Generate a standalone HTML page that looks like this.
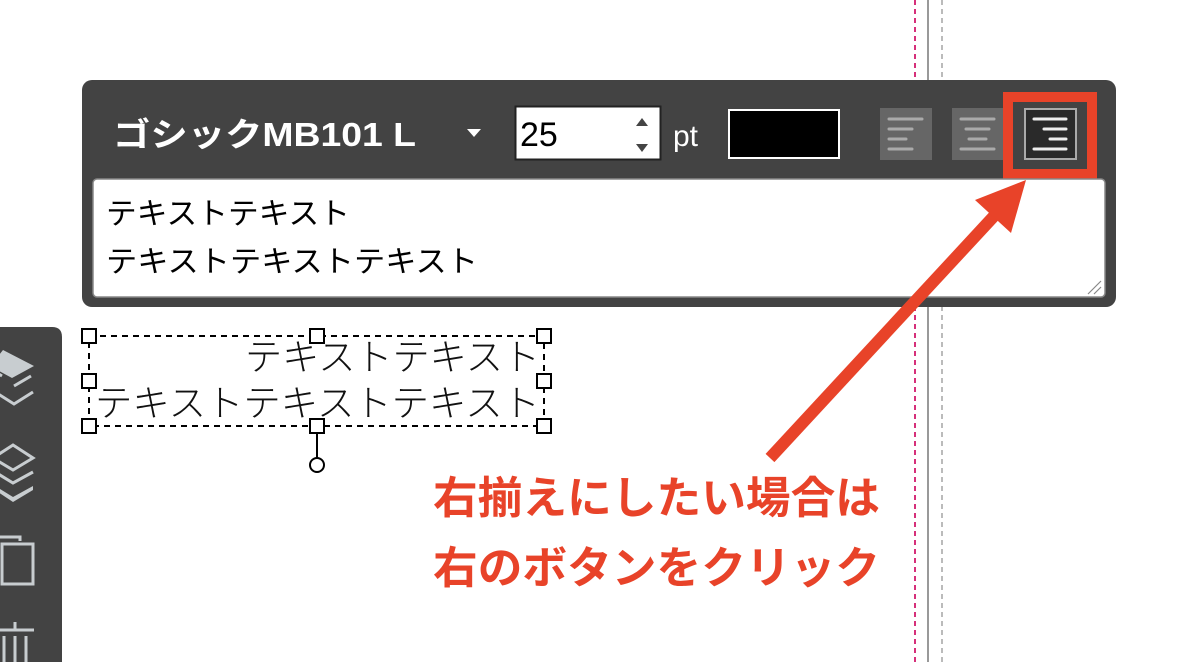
<!DOCTYPE html>
<html><head><meta charset="utf-8"><style>
html,body{margin:0;padding:0;background:#fff;width:1180px;height:662px;overflow:hidden}
svg{display:block}
text{font-family:"Liberation Sans","Noto Sans CJK JP",sans-serif}
</style></head><body>
<svg width="1180" height="662" viewBox="0 0 1180 662" xmlns="http://www.w3.org/2000/svg">
<!-- guide lines -->
<line x1="915" y1="0" x2="915" y2="662" stroke="#d6307a" stroke-width="2" stroke-dasharray="5,4"/>
<line x1="928" y1="0" x2="928" y2="662" stroke="#999" stroke-width="2"/>
<line x1="942" y1="0" x2="942" y2="662" stroke="#bbb" stroke-width="2" stroke-dasharray="5,4"/>
<!-- panel -->
<rect x="82" y="80" width="1034" height="227" rx="10" fill="#434343"/>
<text x="113" y="146" font-size="33" font-weight="bold" fill="#fff" textLength="303" lengthAdjust="spacingAndGlyphs">ゴシックMB101 L</text>
<path d="M467 129 L481 129 L474 137 Z" fill="#fff"/>
<rect x="515.5" y="106.5" width="145" height="53" fill="#fff" stroke="#222" stroke-width="2"/>
<text x="520" y="146" font-size="34" fill="#000">25</text>
<path d="M636 126 L648 126 L642 118 Z M636 144 L648 144 L642 152 Z" fill="#444"/>
<text x="673" y="146" font-size="30" fill="#fff">pt</text>
<rect x="729" y="110" width="110" height="48" fill="#000" stroke="#fff" stroke-width="2"/>
<!-- align buttons -->
<rect x="880" y="108" width="52" height="52" fill="#666"/>
<g stroke="#aaa" stroke-width="3" stroke-linecap="round">
<line x1="889" y1="119" x2="922" y2="119"/><line x1="889" y1="129" x2="912" y2="129"/><line x1="889" y1="139" x2="906" y2="139"/><line x1="889" y1="149" x2="912" y2="149"/>
</g>
<rect x="952" y="108" width="52" height="52" fill="#666"/>
<g stroke="#aaa" stroke-width="3" stroke-linecap="round">
<line x1="961" y1="119" x2="994" y2="119"/><line x1="966" y1="129" x2="989" y2="129"/><line x1="969" y1="139" x2="986" y2="139"/><line x1="961" y1="149" x2="994" y2="149"/>
</g>
<rect x="1025" y="109" width="51" height="50" fill="#2a2a2a" stroke="#aaa" stroke-width="2"/>
<g stroke="#eee" stroke-width="3" stroke-linecap="round">
<line x1="1034" y1="119" x2="1066" y2="119"/><line x1="1044" y1="129" x2="1066" y2="129"/><line x1="1050" y1="139" x2="1066" y2="139"/><line x1="1034" y1="149" x2="1066" y2="149"/>
</g>
<rect x="1008" y="97" width="84" height="77" fill="none" stroke="#e84329" stroke-width="10"/>
<!-- textarea -->
<rect x="93" y="179" width="1012" height="118" rx="4" fill="#fff" stroke="#888" stroke-width="1.5"/>
<text x="106" y="224" font-size="30" fill="#000" textLength="244" lengthAdjust="spacingAndGlyphs">テキストテキスト</text>
<text x="106" y="272" font-size="30" fill="#000" textLength="372" lengthAdjust="spacingAndGlyphs">テキストテキストテキスト</text>
<path d="M1088 294 L1101 281 M1094 294 L1101 287" stroke="#888" stroke-width="1.2"/>
<!-- sidebar -->
<path d="M0 327 L52 327 Q62 327 62 337 L62 662 L0 662 Z" fill="#434343"/>
<g fill="#c8cdd0">
<path d="M3 350 L34 366 L12 378 L-10 366 Z"/>
<path d="M2 376 L-8 370 M14 386 L31 376" stroke="#c8cdd0" stroke-width="3" fill="none"/>
<path d="M-5 392 L14 404 L33 392" stroke="#c8cdd0" stroke-width="3" fill="none"/>
<path d="M13 445 L33 458 L13 470 L-7 458 Z" stroke="#c8cdd0" stroke-width="3" fill="none"/>
<path d="M-5 472 L13 483 L33 472" stroke="#c8cdd0" stroke-width="3" fill="none"/>
<path d="M-5 486 L13 497 L33 486 L33 490 L13 502 L-5 490 Z"/>
</g>
<g stroke="#c8cdd0" stroke-width="3" fill="none">
<path d="M-2 537 L20 537 L20 541"/><rect x="2" y="544" width="31" height="40"/>
<line x1="-2" y1="630" x2="34" y2="630"/><line x1="15" y1="622" x2="15" y2="630"/>
<line x1="4" y1="636" x2="4" y2="662"/><line x1="15" y1="636" x2="15" y2="662"/><line x1="26" y1="636" x2="26" y2="662"/>
</g>
<!-- selection box -->
<rect x="89" y="336" width="455" height="90" fill="none" stroke="#000" stroke-width="2" stroke-dasharray="6,5"/>
<text x="540" y="370" font-size="37" font-weight="300" fill="#111" text-anchor="end" textLength="295" lengthAdjust="spacingAndGlyphs">テキストテキスト</text>
<text x="95" y="416" font-size="37" font-weight="300" fill="#111" textLength="445" lengthAdjust="spacingAndGlyphs">テキストテキストテキスト</text>
<line x1="317" y1="426" x2="317" y2="458" stroke="#000" stroke-width="2"/>
<circle cx="317" cy="465" r="7" fill="#fff" stroke="#000" stroke-width="2"/>
<g fill="#fff" stroke="#000" stroke-width="2">
<rect x="82" y="329" width="14" height="14"/><rect x="310" y="329" width="14" height="14"/><rect x="537" y="329" width="14" height="14"/>
<rect x="82" y="374" width="14" height="14"/><rect x="537" y="374" width="14" height="14"/>
<rect x="82" y="419" width="14" height="14"/><rect x="310" y="419" width="14" height="14"/><rect x="537" y="419" width="14" height="14"/>
</g>
<!-- arrow -->
<line x1="770" y1="458" x2="995" y2="215" stroke="#e84329" stroke-width="12"/>
<path d="M1026 180 L975 200 L1011 233 Z" fill="#e84329"/>
<!-- red text -->
<text x="433" y="513" font-size="44" font-weight="bold" fill="#e84329" textLength="447" lengthAdjust="spacingAndGlyphs">右揃えにしたい場合は</text>
<text x="433" y="583" font-size="44" font-weight="bold" fill="#e84329" textLength="447" lengthAdjust="spacingAndGlyphs">右のボタンをクリック</text>
</svg>
</body></html>
